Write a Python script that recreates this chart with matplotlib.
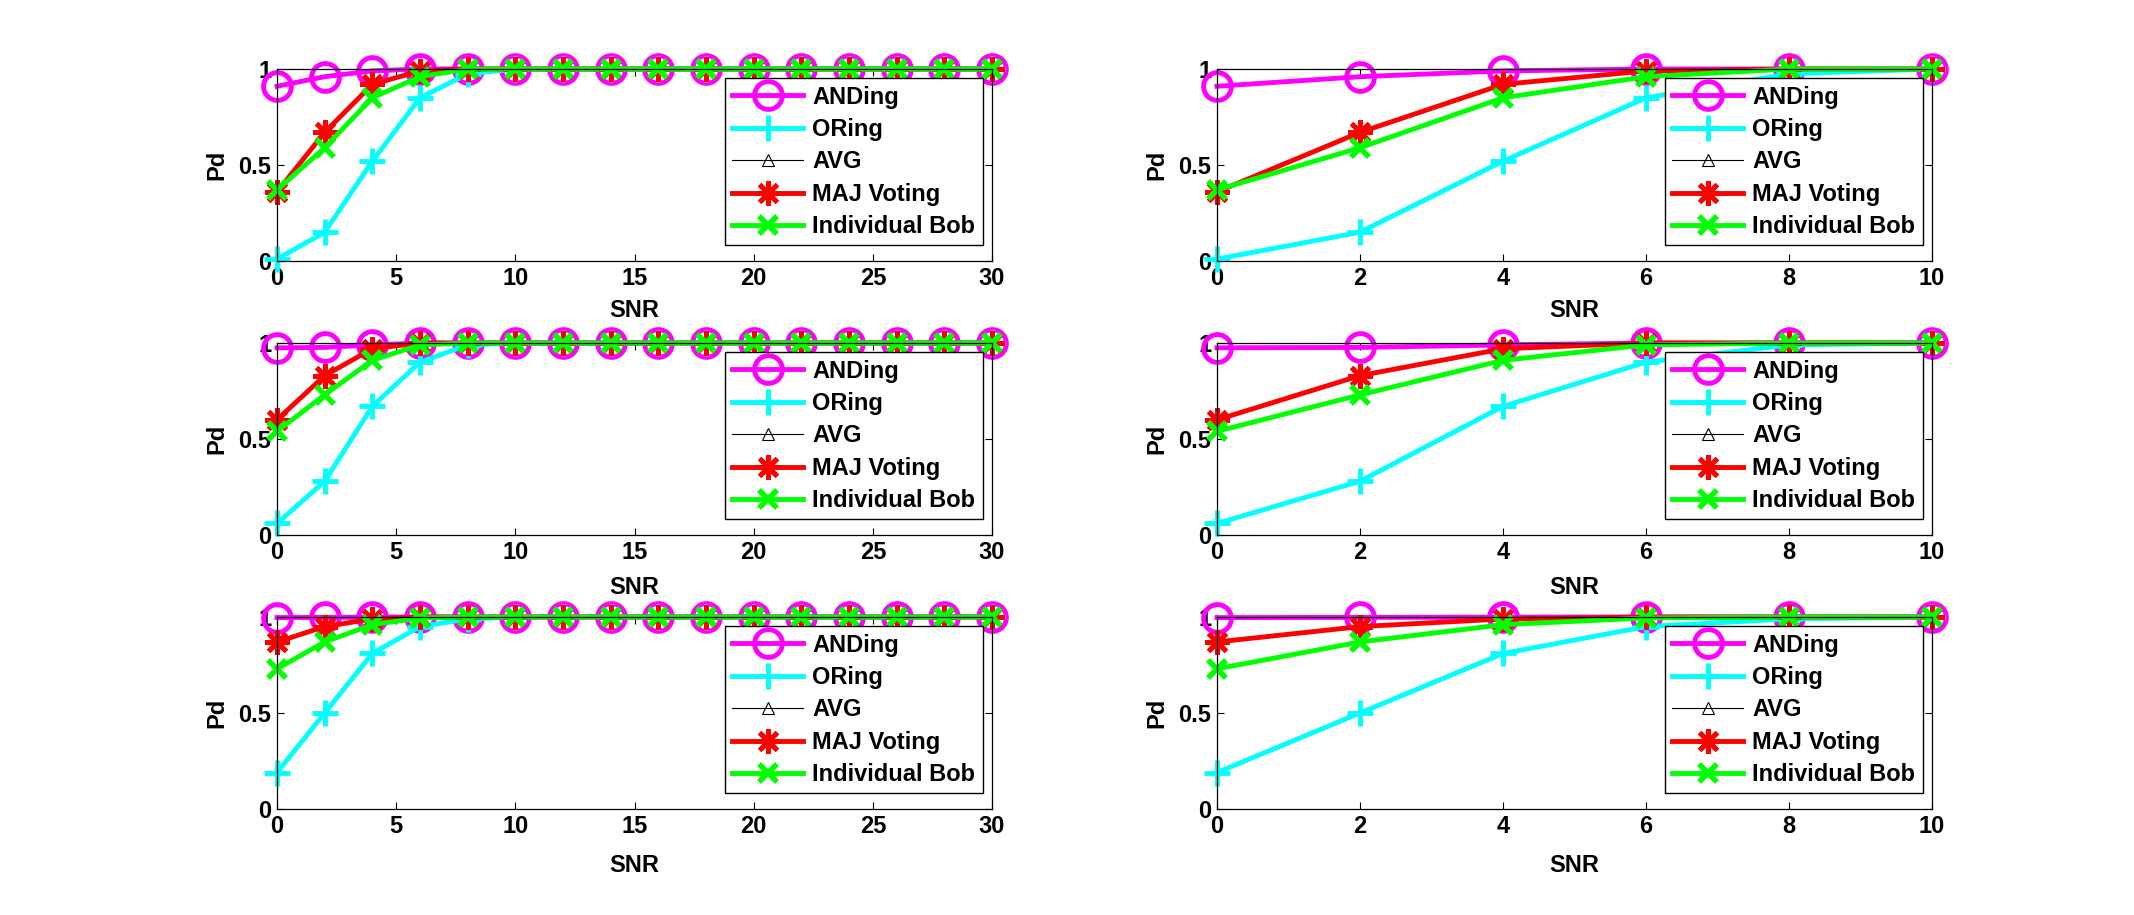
import numpy as np
import matplotlib
matplotlib.use("Agg")
import matplotlib.pyplot as plt

plt.rcParams['font.family'] = ['Liberation Sans', 'DejaVu Sans']
plt.rcParams['font.weight'] = 'bold'

snr_long = [0, 2, 4, 6, 8, 10, 12, 14, 16, 18, 20, 22, 24, 26, 28, 30]
snr_short = [0, 2, 4, 6, 8, 10]

# row 1
and1 = [0.91, 0.96, 0.99, 1.0, 1, 1, 1, 1, 1, 1, 1, 1, 1, 1, 1, 1]
or1 = [0.01, 0.15, 0.52, 0.85, 0.975, 1, 1, 1, 1, 1, 1, 1, 1, 1, 1, 1]
avg1 = [np.nan] * 16
maj1 = [0.36, 0.67, 0.92, 0.99, 1, 1, 1, 1, 1, 1, 1, 1, 1, 1, 1, 1]
bob1 = [0.37, 0.59, 0.85, 0.96, 1, 1, 1, 1, 1, 1, 1, 1, 1, 1, 1, 1]

# row 2
and2 = [0.975, 0.977, 0.99, 1.0, 1, 1, 1, 1, 1, 1, 1, 1, 1, 1, 1, 1]
or2 = [0.06, 0.28, 0.67, 0.9, 0.99, 1, 1, 1, 1, 1, 1, 1, 1, 1, 1, 1]
avg2 = [np.nan] * 16
maj2 = [0.6, 0.83, 0.97, 1.0, 1, 1, 1, 1, 1, 1, 1, 1, 1, 1, 1, 1]
bob2 = [0.54, 0.73, 0.91, 0.99, 1, 1, 1, 1, 1, 1, 1, 1, 1, 1, 1, 1]

# row 3
and3 = [0.997, 0.998, 0.999, 1.0, 1, 1, 1, 1, 1, 1, 1, 1, 1, 1, 1, 1]
or3 = [0.19, 0.5, 0.81, 0.95, 0.99, 1, 1, 1, 1, 1, 1, 1, 1, 1, 1, 1]
avg3 = [np.nan] * 16
maj3 = [0.87, 0.95, 0.99, 1.0, 1, 1, 1, 1, 1, 1, 1, 1, 1, 1, 1, 1]
bob3 = [0.73, 0.87, 0.96, 0.995, 1, 1, 1, 1, 1, 1, 1, 1, 1, 1, 1, 1]

rows = [(and1, or1, avg1, maj1, bob1),
        (and2, or2, avg2, maj2, bob2),
        (and3, or3, avg3, maj3, bob3)]

labels = ["ANDing", "ORing", "AVG", "MAJ Voting", "Individual Bob"]

fig = plt.figure(figsize=(21.34, 9.15), dpi=100)

W, H = 2134.0, 915.0
lefts = [277 / W, 1217 / W]
width = 715 / W
bottoms = [1 - 261 / H, 1 - 535 / H, 1 - 809 / H]
height = 192 / H
xlabel_pads = [6.5, 9, 12]


def draw(ax, x, series):
    a, o, v, m, b = series
    n = len(x)
    ax.plot(x, a[:n], color='#ff00ff', lw=3.5, marker='o', ms=20, mew=3.5,
            mfc='none', clip_on=False, label=labels[0])
    ax.plot(x, o[:n], color='#00ffff', lw=3.5, marker='+', ms=19, mew=3.5,
            clip_on=False, label=labels[1])
    ax.plot(x, v[:n], color='black', lw=0.8, marker='^', ms=9, mew=0.8,
            mfc='none', clip_on=False, label=labels[2])
    ax.plot(x, m[:n], color='#ff0000', lw=3.5, marker=(8, 2, 0), ms=18, mew=3.5,
            clip_on=False, label=labels[3])
    ax.plot(x, b[:n], color='#00ff00', lw=3.5, marker='x', ms=13, mew=4,
            clip_on=False, label=labels[4])


for r in range(3):
    for c in range(2):
        ax = fig.add_axes([lefts[c], bottoms[r], width, height])
        if c == 0:
            x = snr_long
            ax.set_xlim(0, 30)
            ax.set_xticks([0, 5, 10, 15, 20, 25, 30])
        else:
            x = snr_short
            ax.set_xlim(0, 10)
            ax.set_xticks([0, 2, 4, 6, 8, 10])
        draw(ax, x, rows[r])
        ax.set_ylim(0, 1)
        ax.set_yticks([0, 0.5, 1])
        ax.set_yticklabels(["0", "0.5", "1"])
        ax.tick_params(direction='in', length=5, width=0.8, top=True,
                       right=True, labelsize=17, pad=4)
        for lab in ax.get_xticklabels() + ax.get_yticklabels():
            lab.set_fontweight('bold')
        for s in ax.spines.values():
            s.set_linewidth(0.9)
        ax.set_ylabel("Pd", fontsize=17, fontweight='bold', labelpad=7)
        ax.set_xlabel("SNR", fontsize=17, fontweight='bold',
                      labelpad=xlabel_pads[r])
        leg = ax.legend(loc='upper right', fontsize=17, numpoints=1,
                        fancybox=False, framealpha=1, edgecolor='black',
                        borderaxespad=0.4, borderpad=0.3,
                        labelspacing=0.4, handlelength=3.0,
                        handletextpad=0.4)
        leg.get_frame().set_linewidth(1.0)
        for t in leg.get_texts():
            t.set_fontweight('bold')

fig.savefig("out.png", dpi=100)
